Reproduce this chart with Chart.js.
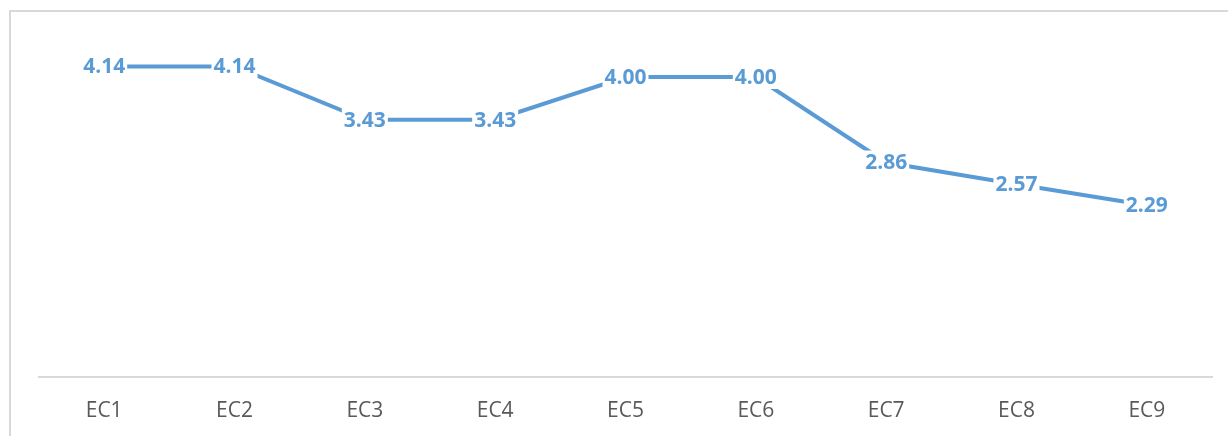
<!DOCTYPE html>
<html>
<head>
<meta charset="utf-8">
<title>EC</title>
<script src="https://cdn.jsdelivr.net/npm/chart.js@4/dist/chart.umd.min.js"></script>
<style>
  html, body { margin: 0; padding: 0; background: #fff; }
  #wrap { position: relative; width: 1228px; height: 436px; overflow: hidden; }
  #moldura {
    position: absolute; left: 9px; top: 10px; width: 1230px; height: 440px;
    border-top: 2px solid #d9d9d9; border-left: 2px solid #d9d9d9;
  }
  #grafico { position: absolute; left: 0; top: 0; }
</style>
</head>
<body>
<div id="wrap">
  <div id="moldura"></div>
  <canvas id="grafico" width="1228" height="436"></canvas>
</div>
<script>
// ---- dados ----
const categorias = ["EC1", "EC2", "EC3", "EC4", "EC5", "EC6", "EC7", "EC8", "EC9"];
const medias = [4.14, 4.14, 3.43, 3.43, 4.00, 4.00, 2.86, 2.57, 2.29];

const azul = "#5b9bd5";
const fonte = "'Open Sans', 'Noto Sans', sans-serif";

// rótulos de valor centrados no ponto, com fundo branco por cima da linha
const rotulosValor = {
  id: "rotulosValor",
  afterDatasetsDraw(chart) {
    const ctx = chart.ctx;
    const meta = chart.getDatasetMeta(0);
    ctx.save();
    ctx.font = "bold 21px " + fonte;
    ctx.textAlign = "center";
    ctx.textBaseline = "middle";
    meta.data.forEach((pt, i) => {
      const txt = medias[i].toFixed(2);
      const w = ctx.measureText(txt).width;
      ctx.fillStyle = "#fff";
      ctx.fillRect(pt.x - w / 2 - 2, pt.y - 12, w + 4, 24);
      ctx.fillStyle = azul;
      ctx.fillText(txt, pt.x, pt.y + 1);
    });
    ctx.restore();
  },
};

new Chart(document.getElementById("grafico"), {
  type: "line",
  data: {
    labels: categorias,
    datasets: [
      {
        data: medias,
        borderColor: azul,
        borderWidth: 4,
        pointRadius: 0,
        tension: 0,
        fill: false,
      },
    ],
  },
  options: {
    responsive: false,
    devicePixelRatio: 1,
    animation: false,
    layout: { padding: { left: 39, right: 16, top: 2, bottom: 0 } },
    plugins: { legend: { display: false }, tooltip: { enabled: false } },
    scales: {
      x: {
        offset: true,
        grid: { display: true, color: "transparent", drawTicks: false },
        border: { display: true, color: "#d9d9d9", width: 2 },
        ticks: { color: "#595959", font: { family: fonte, size: 21 }, padding: 21 },
        afterFit: (s) => { s.height = 59; },
      },
      y: { display: false, min: 0, max: 5 },
    },
  },
  plugins: [rotulosValor],
});
</script>
</body>
</html>
